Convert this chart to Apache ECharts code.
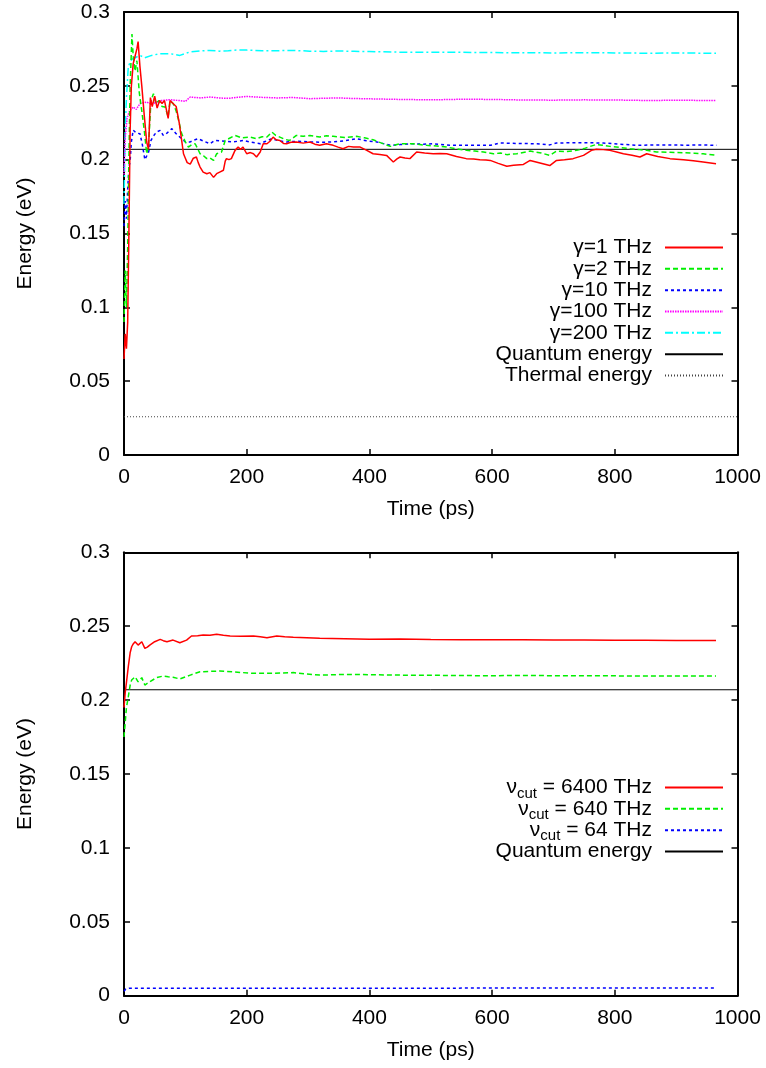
<!DOCTYPE html>
<html><head><meta charset="utf-8">
<script src="https://cdn.jsdelivr.net/npm/echarts@6/dist/echarts.min.js"></script>
<style>html,body{margin:0;padding:0;background:#fff}#c{width:766px;height:1068px}</style>
</head><body><div id="c"></div>
<script>
// ---------- DATA ----------
const xTicks = [0, 200, 400, 600, 800, 1000];
const yTicks = [0, 0.05, 0.1, 0.15, 0.2, 0.25, 0.3];

const topNames = ['γ=1 THz', 'γ=2 THz', 'γ=10 THz', 'γ=100 THz', 'γ=200 THz', 'Quantum energy', 'Thermal energy'];
const botNames = ['νcut = 6400 THz', 'νcut = 640 THz', 'νcut = 64 THz', 'Quantum energy'];

const gamma1 = [[0,0.065],[2,0.082],[4,0.072],[6,0.09],[8,0.15],[10,0.22],[12,0.25],[15,0.265],[18,0.27],[21,0.275],[23,0.28],[26,0.263],[29,0.25],[33,0.23],[37,0.212],[40,0.207],[43,0.242],[46,0.236],[50,0.243],[54,0.235],[58,0.24],[62,0.238],[66,0.24],[70,0.232],[72,0.228],[75,0.24],[80,0.238],[85,0.236],[90,0.225],[94,0.213],[97,0.204],[100,0.201],[103,0.198],[108,0.197],[113,0.201],[118,0.2018],[121,0.198],[124,0.195],[129,0.1916],[132,0.1925],[135,0.1905],[140,0.1912],[146,0.188],[151,0.1905],[156,0.1916],[162,0.1928],[165,0.199],[167,0.2007],[171,0.2],[175,0.2007],[181,0.2063],[186,0.2085],[190,0.207],[194,0.2085],[200,0.204],[206,0.2048],[211,0.204],[216,0.2018],[222,0.2052],[227,0.2108],[233,0.2108],[238,0.2125],[243,0.2153],[248,0.2135],[254,0.213],[260,0.211],[265,0.2108],[272,0.2118],[281,0.212],[292,0.2112],[303,0.212],[311,0.2105],[319,0.2097],[330,0.2108],[341,0.2097],[349,0.2085],[357,0.2074],[366,0.209],[374,0.2085],[385,0.2085],[395,0.2065],[406,0.204],[417,0.2035],[428,0.2029],[434,0.2005],[439,0.1984],[445,0.2005],[450,0.2018],[458,0.2012],[466,0.2007],[477,0.2052],[490,0.2045],[504,0.204],[515,0.2042],[526,0.204],[542,0.2022],[558,0.2007],[570,0.2004],[580,0.2],[590,0.1998],[597,0.1995],[610,0.1975],[624,0.1955],[635,0.1962],[651,0.1968],[662,0.1995],[678,0.1978],[694,0.196],[705,0.1995],[718,0.2],[732,0.2007],[749,0.2029],[762,0.2063],[770,0.207],[781,0.2068],[792,0.2063],[803,0.2052],[814,0.204],[828,0.203],[841,0.2018],[852,0.204],[870,0.2022],[890,0.2007],[912,0.2],[928,0.1992],[944,0.1984],[965,0.1973]];
const gamma2 = [[0,0.09],[2,0.125],[4,0.1],[6,0.14],[8,0.2],[10,0.25],[13,0.285],[15,0.27],[18,0.26],[21,0.267],[25,0.245],[29,0.233],[33,0.22],[37,0.204],[40,0.21],[44,0.24],[48,0.2447],[52,0.238],[57,0.24],[62,0.236],[67,0.2356],[72,0.229],[75,0.24],[80,0.238],[85,0.233],[89,0.2266],[94,0.2176],[100,0.212],[105,0.2085],[110,0.21],[116,0.2108],[120,0.2075],[124,0.204],[130,0.2025],[135,0.2007],[140,0.2012],[146,0.1995],[151,0.204],[159,0.2052],[162,0.2045],[165,0.213],[172,0.2145],[181,0.2164],[192,0.2148],[205,0.2153],[216,0.2142],[225,0.2155],[233,0.2153],[241,0.2187],[247,0.2165],[254,0.2153],[262,0.2138],[270,0.213],[281,0.2164],[292,0.2158],[303,0.2164],[319,0.2153],[330,0.2162],[341,0.2158],[360,0.215],[379,0.2158],[392,0.2148],[406,0.2135],[420,0.2112],[434,0.209],[450,0.2108],[471,0.2108],[493,0.2097],[510,0.2092],[526,0.2085],[540,0.2075],[558,0.2063],[572,0.2058],[586,0.2052],[602,0.204],[614,0.2045],[624,0.2034],[640,0.204],[662,0.2058],[680,0.2045],[694,0.2029],[705,0.2058],[720,0.2055],[738,0.2063],[750,0.2075],[760,0.209],[770,0.2103],[780,0.2098],[792,0.209],[808,0.2083],[825,0.2074],[840,0.2068],[852,0.2063],[868,0.2052],[890,0.205],[912,0.2047],[930,0.2044],[944,0.204],[966,0.2029]];
const gamma10 = [[0,0.155],[2,0.172],[4,0.16],[6,0.18],[8,0.195],[10,0.199],[12,0.212],[15,0.22],[20,0.218],[26,0.2176],[30,0.21],[34,0.2],[37,0.1995],[40,0.205],[44,0.213],[48,0.216],[53,0.2187],[59,0.2198],[64,0.2164],[70,0.218],[78,0.221],[84,0.218],[91,0.2153],[100,0.212],[108,0.212],[114,0.2132],[121,0.2142],[130,0.2125],[140,0.2108],[148,0.213],[160,0.2126],[178,0.212],[194,0.213],[208,0.2118],[222,0.2108],[231,0.2125],[241,0.2142],[252,0.2128],[265,0.212],[284,0.2125],[303,0.212],[322,0.2118],[341,0.212],[360,0.2128],[379,0.2142],[395,0.2128],[412,0.212],[434,0.2097],[450,0.2102],[471,0.2108],[488,0.2105],[504,0.2108],[531,0.2097],[564,0.2097],[597,0.2097],[613,0.2113],[640,0.211],[673,0.2108],[694,0.21],[705,0.2113],[740,0.2115],[781,0.2113],[808,0.2105],[836,0.2097],[862,0.21],[890,0.21],[918,0.2098],[944,0.21],[966,0.2097]];
const gamma100 = [[0,0.19],[2,0.215],[5,0.228],[9,0.233],[15,0.2356],[20,0.234],[26,0.238],[37,0.239],[45,0.2375],[59,0.24],[75,0.2406],[91,0.24],[100,0.2395],[108,0.2424],[125,0.2418],[140,0.2424],[155,0.2418],[170,0.2415],[185,0.2422],[200,0.2428],[225,0.2422],[250,0.2418],[275,0.2421],[303,0.2413],[325,0.2416],[350,0.2418],[375,0.2414],[400,0.2412],[450,0.2408],[500,0.2405],[550,0.2409],[600,0.2408],[650,0.2404],[700,0.2403],[750,0.2405],[800,0.2404],[850,0.2401],[900,0.2402],[965,0.2401]];
const gamma200 = [[0,0.17],[2,0.22],[4,0.242],[7,0.263],[10,0.266],[13,0.268],[18,0.269],[26,0.2706],[34,0.269],[45,0.2706],[59,0.2718],[75,0.2718],[91,0.2706],[107,0.2729],[124,0.2736],[140,0.274],[155,0.2735],[170,0.2738],[185,0.2743],[200,0.2742],[225,0.2737],[250,0.2738],[275,0.274],[303,0.2735],[325,0.2733],[350,0.2736],[375,0.2734],[400,0.2732],[450,0.2728],[500,0.2727],[550,0.2727],[600,0.2725],[650,0.2724],[700,0.2723],[750,0.2724],[800,0.2723],[850,0.2721],[900,0.2722],[965,0.2721]];
const quantum = [[0,0.207],[1000,0.207]];
const thermal = [[0,0.0259],[1000,0.0259]];

const cut6400 = [[0,0.195],[2,0.205],[4,0.212],[7,0.2226],[10,0.232],[12.5,0.2361],[15,0.238],[18,0.2395],[23,0.2372],[29,0.2395],[34,0.235],[38,0.2358],[42,0.2372],[50,0.2395],[59,0.2411],[64,0.2402],[70,0.2395],[80,0.2406],[91,0.2388],[102,0.2406],[110,0.2434],[120,0.2436],[129,0.244],[140,0.2438],[151,0.2445],[162,0.2438],[173,0.2434],[190,0.2432],[211,0.2434],[222,0.2428],[233,0.2422],[249,0.2434],[262,0.2428],[276,0.2425],[298,0.2422],[319,0.2418],[360,0.2415],[400,0.2412],[450,0.2414],[500,0.241],[550,0.2409],[600,0.2408],[650,0.2409],[700,0.2406],[750,0.2407],[800,0.2405],[850,0.2405],[900,0.2404],[965,0.2403]];
const cut640 = [[0,0.175],[2,0.185],[4,0.195],[7,0.2023],[10,0.21],[12.5,0.2136],[18,0.2158],[23,0.2124],[29,0.2152],[34,0.2102],[42,0.2124],[53,0.2152],[64,0.2163],[72,0.2158],[80,0.2155],[91,0.2143],[108,0.2169],[124,0.2192],[140,0.2194],[156,0.2197],[180,0.219],[211,0.2181],[243,0.2181],[276,0.2186],[298,0.2176],[319,0.2169],[360,0.2174],[400,0.2172],[450,0.2169],[500,0.2168],[550,0.2166],[600,0.2165],[650,0.2167],[700,0.2165],[750,0.2164],[800,0.2164],[850,0.2163],[900,0.2163],[965,0.2163]];
const cut64 = [[0,0.003],[3,0.0045],[8,0.005],[100,0.005],[300,0.0051],[500,0.0051],[700,0.0052],[965,0.0052]];

// ---------- CHART ----------
const FONT = '"Liberation Sans", Arial, Helvetica, sans-serif';
const FS = 21;
const chart = echarts.init(document.getElementById('c'), null, {renderer: 'canvas'});

function xAx(gi, pos, main) {
  return {
    type: 'value', gridIndex: gi, position: pos, min: xTicks[0], max: xTicks[xTicks.length - 1],
    interval: xTicks[1] - xTicks[0],
    axisLine: {show: true, onZero: false, lineStyle: {color: '#000', width: 2}},
    axisTick: {show: true, inside: true, length: 6, lineStyle: {color: '#000', width: 1.5}},
    axisLabel: {show: main, color: '#000', fontSize: FS, fontFamily: FONT, margin: 12,
      formatter: v => String(v)},
    splitLine: {show: false},
    name: main ? 'Time (ps)' : '', nameLocation: 'middle', nameGap: 44,
    nameTextStyle: {color: '#000', fontSize: FS, fontFamily: FONT}
  };
}
function yAx(gi, pos, main) {
  return {
    type: 'value', gridIndex: gi, position: pos, min: yTicks[0], max: yTicks[yTicks.length - 1],
    interval: yTicks[1] - yTicks[0],
    axisLine: {show: true, onZero: false, lineStyle: {color: '#000', width: 2}},
    axisTick: {show: true, inside: true, length: 6, lineStyle: {color: '#000', width: 1.5}},
    axisLabel: {show: main, color: '#000', fontSize: FS, fontFamily: FONT, margin: 14,
      formatter: v => String(Math.round(v * 100) / 100)},
    splitLine: {show: false},
    name: main ? 'Energy (eV)' : '', nameLocation: 'middle', nameGap: 88,
    nameTextStyle: {color: '#000', fontSize: FS, fontFamily: FONT}
  };
}
function ser(name, data, gi, color, type, width) {
  return {
    type: 'line', name: name, data: data, xAxisIndex: gi * 2, yAxisIndex: gi * 2,
    symbol: 'none', showSymbol: false, animation: false, silent: true,
    lineStyle: {color: color, width: width || 1.5, type: type || 'solid'},
    itemStyle: {color: color}
  };
}
const richSub = {
  n: {fontSize: FS, fontFamily: FONT, color: '#000'},
  s: {fontSize: 15, fontFamily: FONT, color: '#000', padding: [12, 0, 0, 0]},
  t: {fontSize: FS, fontFamily: FONT, color: '#000'}
};
function leg(name, cy, fmt) {
  return {
    data: [name], right: 42, top: cy - 7, orient: 'horizontal', align: 'right',
    itemWidth: 58, itemHeight: 14, itemGap: 0, padding: 0, selectedMode: false,
    itemStyle: {color: 'rgba(0,0,0,0)', borderWidth: 0, opacity: 0},
    textStyle: {color: '#000', fontSize: FS, fontFamily: FONT, padding: [0, 8, 0, 0], rich: richSub},
    formatter: fmt || (n => n)
  };
}
const cutFmt = n => '{n|ν}{s|cut}{t|' + n.replace('νcut', '') + '}';

const topY = [244, 265.3, 286.7, 308, 329.3, 350.7, 372];
const botY = [784, 805.3, 826.7, 848];

const option = {
  animation: false,
  backgroundColor: '#fff',
  grid: [
    {left: 124, top: 12, right: 28.5, height: 443, outerBoundsMode: 'none', containLabel: false},
    {left: 124, top: 552.3, right: 28.5, height: 443.4, outerBoundsMode: 'none', containLabel: false}
  ],
  xAxis: [xAx(0, 'bottom', true), xAx(0, 'top', false), xAx(1, 'bottom', true), xAx(1, 'top', false)],
  yAxis: [yAx(0, 'left', true), yAx(0, 'right', false), yAx(1, 'left', true), yAx(1, 'right', false)],
  legend: [
    ...topNames.map((n, i) => leg(n, topY[i])),
    ...botNames.map((n, i) => leg(n, botY[i], n.indexOf('νcut') === 0 ? cutFmt : null))
  ],
  series: [
    ser(topNames[5], quantum, 0, '#000', 'solid', 1),
    ser(topNames[6], thermal, 0, '#444', [1, 2], 1.2),
    ser(topNames[4], gamma200, 0, '#00ffff', [8, 3, 2, 3]),
    ser(topNames[3], gamma100, 0, '#ff00ff', [1.5, 1]),
    ser(topNames[2], gamma10, 0, '#0000ff', [3, 3]),
    ser(topNames[1], gamma2, 0, '#00f000', [5, 3]),
    ser(topNames[0], gamma1, 0, '#ff0000', 'solid'),
    ser(botNames[3], quantum, 1, '#000', 'solid', 1),
    ser(botNames[2], cut64, 1, '#0000ff', [3, 3]),
    ser(botNames[1], cut640, 1, '#00f000', [5, 3]),
    ser(botNames[0], cut6400, 1, '#ff0000', 'solid')
  ]
};
chart.setOption(option);
</script>
</body></html>
